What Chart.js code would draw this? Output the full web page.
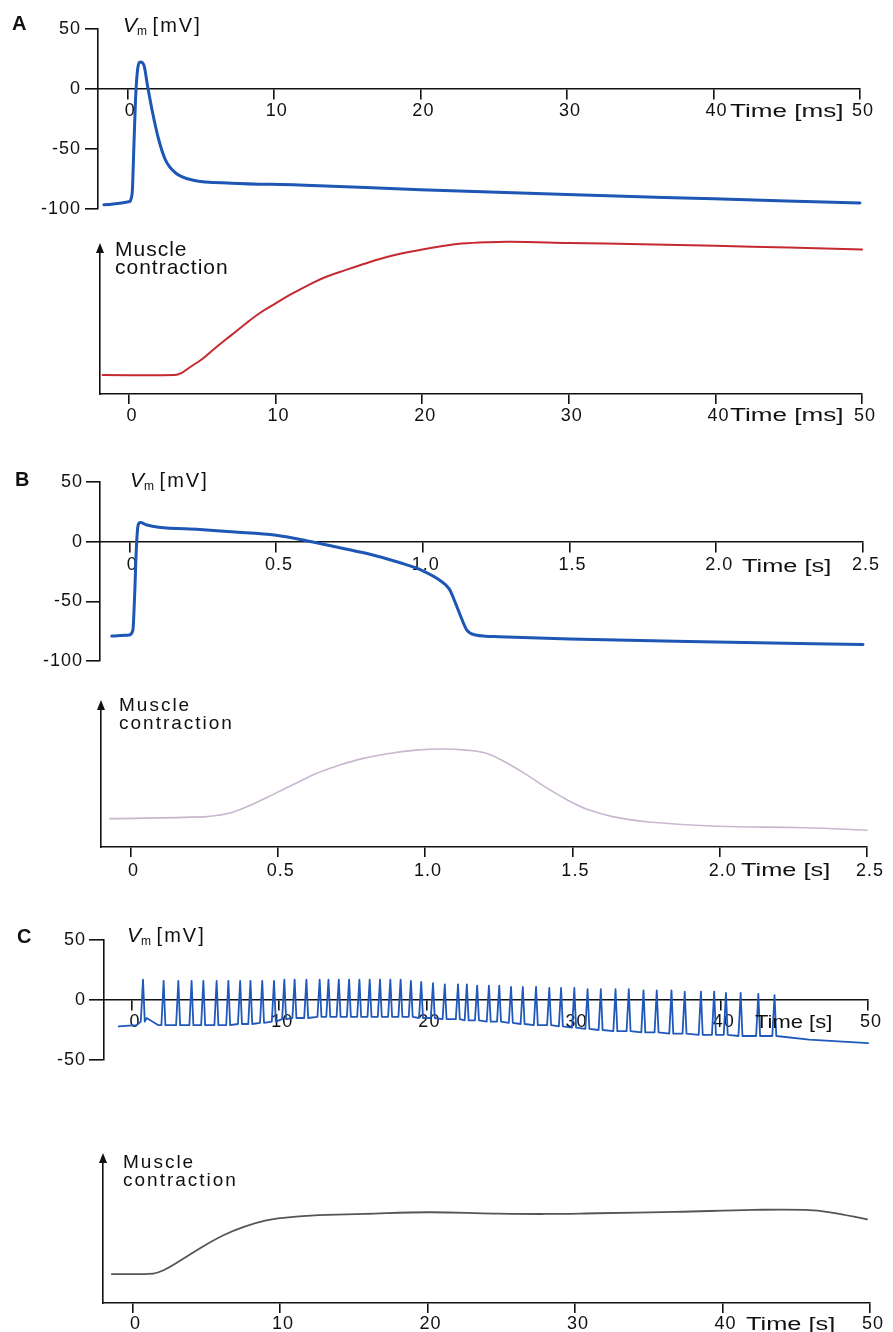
<!DOCTYPE html>
<html><head><meta charset="utf-8">
<script src="https://cdn.jsdelivr.net/npm/chart.js@4.4.1/dist/chart.umd.min.js"></script>
<style>
html,body{margin:0;padding:0;background:#fff;}
body{width:893px;height:1332px;position:relative;overflow:hidden;font-family:"Liberation Sans",Arial,sans-serif;color:#111;}
canvas{position:absolute;left:0;}
.t{position:absolute;white-space:nowrap;line-height:1;}
.panel{font-weight:bold;font-size:20px;}
.vm{font-size:20px;}
.vm i{font-style:italic;font-size:21px;}
.vm sub{font-size:12px;line-height:0;vertical-align:-3px;}
.vm span{letter-spacing:2px;}
.mc{font-size:19px;line-height:18px;letter-spacing:2px;}
.tm{font-size:18px;transform-origin:0 0;}
</style></head><body>
<canvas id="aTop" width="893" height="225" style="top:0px"></canvas>
<canvas id="aBot" width="893" height="200" style="top:225px"></canvas>
<canvas id="bTop" width="893" height="225" style="top:450px"></canvas>
<canvas id="bBot" width="893" height="210" style="top:680px"></canvas>
<canvas id="cTop" width="893" height="160" style="top:915px"></canvas>
<canvas id="cBot" width="893" height="192" style="top:1140px"></canvas>

<div class="t panel" style="left:12px;top:13px">A</div>
<div class="t vm" style="left:123px;top:14px"><i>V</i><sub>m</sub> <span>[mV]</span></div>
<div class="t tm" style="left:730px;top:102px;transform:scaleX(1.45)">Time [ms]</div>
<div class="t mc" style="left:115px;top:240px;font-size:21px;letter-spacing:1px">Muscle<br>contraction</div>
<div class="t tm" style="left:730px;top:406px;transform:scaleX(1.45)">Time [ms]</div>

<div class="t panel" style="left:15px;top:469px">B</div>
<div class="t vm" style="left:130px;top:469px"><i>V</i><sub>m</sub> <span>[mV]</span></div>
<div class="t tm" style="left:742px;top:557px;transform:scaleX(1.41)">Time [s]</div>
<div class="t mc" style="left:119px;top:696px">Muscle<br>contraction</div>
<div class="t tm" style="left:741px;top:861px;transform:scaleX(1.41)">Time [s]</div>

<div class="t panel" style="left:17px;top:926px">C</div>
<div class="t vm" style="left:127px;top:924px"><i>V</i><sub>m</sub> <span>[mV]</span></div>
<div class="t tm" style="left:755px;top:1013px;transform:scaleX(1.22)">Time [s]</div>
<div class="t mc" style="left:123px;top:1153px">Muscle<br>contraction</div>
<div class="t tm" style="left:746px;top:1315px;transform:scaleX(1.41)">Time [s]</div>

<script>
// ---------- DATA ----------
// Panel A: skeletal muscle action potential (ms, mV)
const aTopTime = [-1.6, 0.1, 0.33, 0.44, 0.56, 0.7, 0.9, 1.13, 1.39, 1.73, 2.15, 2.6, 3.3, 4.5, 7.1, 11.7, 20, 30, 40, 50];
const aTopVm   = [-96.5, -94, -87, -51, -9, 16, 22.5, 20, 2, -20, -42.5, -59, -70, -76, -78.5, -80, -84, -88, -91.5, -95];
// Panel A: twitch contraction (ms, relative units)
const aBotTime  = [-1.8, 3.1, 3.6, 4.1, 5.0, 5.7, 7.0, 8.0, 9.0, 10, 11, 12.5, 13.5, 14.8, 16, 17.1, 18.5, 20, 21.5, 22.7, 24.5, 26, 30, 35, 40, 45, 50];
const aBotForce = [13, 13, 14.5, 18, 24, 30, 40.5, 48.5, 56, 62, 68, 76, 80.5, 85, 89, 92.5, 96, 99, 101.5, 103, 104, 104.3, 103.5, 102.5, 101.5, 100.3, 99];
const aTicks = [0, 10, 20, 30, 40, 50];
const aTickLabels = ['0', '10', '20', '30', '40', '50'];

// Panel B: cardiac action potential (s, mV)
const bTopTime = [-0.06, 0.0, 0.012, 0.018, 0.024, 0.03, 0.037, 0.06, 0.1, 0.24, 0.35, 0.5, 0.6, 0.69, 0.81, 0.92, 1.0, 1.06, 1.09, 1.11, 1.13, 1.15, 1.18, 1.26, 1.5, 2.0, 2.5];
const bTopVm   = [-79, -78, -74, -45, -5, 14, 16, 14, 12.2, 10.2, 8.3, 5.5, 1.1, -3.6, -9.9, -17.4, -24.3, -32.6, -39.5, -50.5, -63, -74, -78, -79.5, -81.5, -84, -86];
// Panel B: contraction (s, relative units)
const bBotTime  = [-0.07, 0.25, 0.30, 0.35, 0.42, 0.49, 0.56, 0.63, 0.70, 0.79, 0.88, 0.97, 1.06, 1.14, 1.21, 1.27, 1.34, 1.41, 1.48, 1.55, 1.64, 1.76, 1.99, 2.29, 2.5];
const bBotForce = [20, 21.2, 22.4, 24.7, 30.6, 37.6, 44.7, 51.8, 57, 62.4, 65.9, 68.2, 69, 68.2, 65.9, 60, 51.5, 42, 33.5, 26.5, 21.2, 17.6, 14.6, 13.6, 11.8];
const bTicks = [0, 0.5, 1.0, 1.5, 2.0, 2.5];
const bTickLabels = ['0', '0.5', '1.0', '1.5', '2.0', '2.5'];

// Panel C: smooth muscle spike train (s, mV)
const cSpikeTime = [0.6, 2.0, 3.0, 3.9, 4.7, 5.6, 6.4, 7.2, 7.9, 8.7, 9.5, 10.2, 10.9, 11.7, 12.6, 13.2, 13.9, 14.6, 15.3, 16.0, 16.7, 17.4, 18.1, 18.8, 19.5, 20.3, 21.1, 22.0, 22.6, 23.3, 24.1, 24.8, 25.6, 26.4, 27.3, 28.2, 29.0, 29.9, 30.8, 31.7, 32.7, 33.6, 34.6, 35.5, 36.5, 37.4, 38.5, 39.4, 40.2, 41.2, 42.4, 43.5];
const cSpikePeak = [17, 16, 16, 16, 16, 16, 16, 16, 16, 16, 16, 17, 17, 17, 17, 17, 17, 17, 17, 17, 17, 17, 17, 16, 15, 14, 13, 13, 13, 12, 12, 12, 11, 11, 11, 10, 10, 10, 9, 9, 9, 9, 8, 8, 8, 7, 7, 7, 6, 6, 5, 4];
const cSpikeBase = [-18, -21, -21, -21, -21, -21, -21, -20, -20, -19, -18, -16, -15, -15, -14, -14, -14, -14, -14, -14, -14, -14, -14, -14, -15, -15, -16, -16, -17, -17, -18, -18, -19, -20, -21, -21, -22, -23, -24, -25, -26, -26, -27, -27, -28, -28, -29, -29, -29, -30, -30, -30];
const cRestTime = [-0.9, 0.3, 1.0, 1.8, 46.0, 50.0];
const cRestVm   = [-22, -21, -15, -21, -33, -36];
// Panel C: tonic contraction (s, relative units)
const cBotTime  = [-1.4, 1.4, 2.1, 3.3, 4.75, 6.2, 7.6, 9.0, 10.4, 12.1, 15.7, 20.1, 24.5, 28, 31.5, 36.8, 42.1, 45.6, 47.4, 49.8];
const cBotForce = [19.9, 20.3, 22.6, 29.6, 38.8, 46.9, 52.7, 56.8, 58.9, 60.3, 61.4, 62.6, 61.7, 61.4, 61.9, 62.8, 64.2, 64.2, 62.4, 57.7];
const cTicks = [0, 10, 20, 30, 40, 50];
const cTickLabels = ['0', '10', '20', '30', '40', '50'];

// ---------- RENDER ----------
const AX = '#111';
const FONT = {family: '"Liberation Sans", Arial, sans-serif', size: 18};

function pts(xs, ys) { return xs.map((x, i) => ({x: x, y: ys[i]})); }

function spikeTrain() {
  const out = pts(cRestTime, cRestVm);
  cSpikeTime.forEach((t, i) => {
    out.push({x: t, y: cSpikeBase[i]});
    out.push({x: t + 0.15, y: cSpikePeak[i]});
    out.push({x: t + 0.27, y: cSpikeBase[i]});
  });
  return out.sort((a, b) => a.x - b.x);
}

const arrowPlugin = {
  id: 'arrow',
  beforeDraw(chart) {
    if ('letterSpacing' in chart.ctx) chart.ctx.letterSpacing = '1px';
  },
  afterDraw(chart, args, opts) {
    if (!opts.on) return;
    const ctx = chart.ctx, l = chart.chartArea.left, t = chart.chartArea.top;
    ctx.save();
    ctx.fillStyle = AX;
    ctx.beginPath();
    ctx.moveTo(l, t - 5);
    ctx.lineTo(l - 4, t + 5);
    ctx.lineTo(l + 4, t + 5);
    ctx.closePath();
    ctx.fill();
    ctx.restore();
  }
};

function ds(data, color, width, mode) {
  return {
    data: data, borderColor: color, borderWidth: width, pointRadius: 0, fill: false,
    tension: mode ? 0.4 : 0, cubicInterpolationMode: mode === 'mono' ? 'monotone' : 'default',
    clip: false, borderJoinStyle: 'round', borderCapStyle: 'round'
  };
}

function mk(id, p) {
  const pad = Object.assign({}, p.pad);
  const xH = p.arrow ? pad.bottom : 0;
  if (p.arrow) pad.bottom = 0;
  return new Chart(document.getElementById(id), {
    type: 'line',
    data: {datasets: p.datasets},
    options: {
      responsive: false, animation: false, devicePixelRatio: 1, events: [],
      layout: {padding: pad},
      plugins: {legend: {display: false}, tooltip: {enabled: false}, arrow: {on: !!p.arrow}},
      scales: {
        x: {
          type: 'linear', min: p.xMin, max: p.xMax,
          position: p.arrow ? 'bottom' : {y: 0},
          afterFit: s => { s.height = xH; },
          afterBuildTicks: s => { s.ticks = p.xTicks.map(v => ({value: v})); },
          grid: {drawOnChartArea: false, drawTicks: true, tickLength: 10, color: AX, lineWidth: 1.6},
          border: {display: true, color: AX, width: 1.6},
          ticks: {autoSkip: false, maxRotation: 0, padding: p.tickPad, color: AX, font: FONT, labelOffset: 3,
                  callback: (v, i) => p.xLabels[i]}
        },
        y: {
          type: 'linear', min: p.yMin, max: p.yMax, position: 'left',
          afterFit: s => { s.width = p.yWidth; },
          ticks: p.arrow ? {display: false} : {stepSize: p.yStep, padding: p.yPad, color: AX, font: FONT},
          grid: p.arrow ? {display: false} : {drawOnChartArea: false, drawTicks: true, tickLength: p.yTickLen, color: AX, lineWidth: 1.6},
          border: {display: true, color: AX, width: 1.6}
        }
      }
    },
    plugins: [arrowPlugin]
  });
}

const BLUE = '#1d56b4';

mk('aTop', {xMin: -2, xMax: 50, xTicks: aTicks, xLabels: aTickLabels, yMin: -100, yMax: 50, yStep: 50,
  pad: {left: 0, right: 33, top: 29, bottom: 16}, yWidth: 98, tickPad: 1, yTickLen: 13, yPad: 4,
  datasets: [ds(pts(aTopTime, aTopVm), BLUE, 3, 'mono')]});
mk('aBot', {arrow: true, xMin: -1.98, xMax: 50, xTicks: aTicks, xLabels: aTickLabels, yMin: 0, yMax: 100,
  pad: {left: 0, right: 31, top: 23, bottom: 31}, yWidth: 100, tickPad: 1,
  datasets: [ds(pts(aBotTime, aBotForce), '#c42a30', 2, 'smooth')]});
mk('bTop', {xMin: -0.1, xMax: 2.5, xTicks: bTicks, xLabels: bTickLabels, yMin: -100, yMax: 50, yStep: 50,
  pad: {left: 0, right: 30, top: 32, bottom: 12}, yWidth: 100, tickPad: 2, yTickLen: 14, yPad: 3,
  datasets: [ds(pts(bTopTime, bTopVm), BLUE, 3, 'mono')]});
mk('bBot', {arrow: true, xMin: -0.1, xMax: 2.5, xTicks: bTicks, xLabels: bTickLabels, yMin: 0, yMax: 100,
  pad: {left: 0, right: 26, top: 25, bottom: 43}, yWidth: 101, tickPad: 3,
  datasets: [ds(pts(bBotTime, bBotForce), '#c9b6cf', 1.6, 'smooth')]});
mk('cTop', {xMin: -1.9, xMax: 50, xTicks: cTicks, xLabels: cTickLabels, yMin: -50, yMax: 50, yStep: 50,
  pad: {left: 0, right: 25, top: 25, bottom: 15}, yWidth: 104, tickPad: 1, yTickLen: 15, yPad: 3,
  datasets: [ds(spikeTrain(), '#2058bb', 1.8, null)]});
mk('cBot', {arrow: true, xMin: -2, xMax: 50, xTicks: cTicks, xLabels: cTickLabels, yMin: 0, yMax: 100,
  pad: {left: 0, right: 23, top: 18, bottom: 29}, yWidth: 103, tickPad: 0,
  datasets: [ds(pts(cBotTime, cBotForce), '#555555', 1.8, 'smooth')]});
</script>
</body></html>
